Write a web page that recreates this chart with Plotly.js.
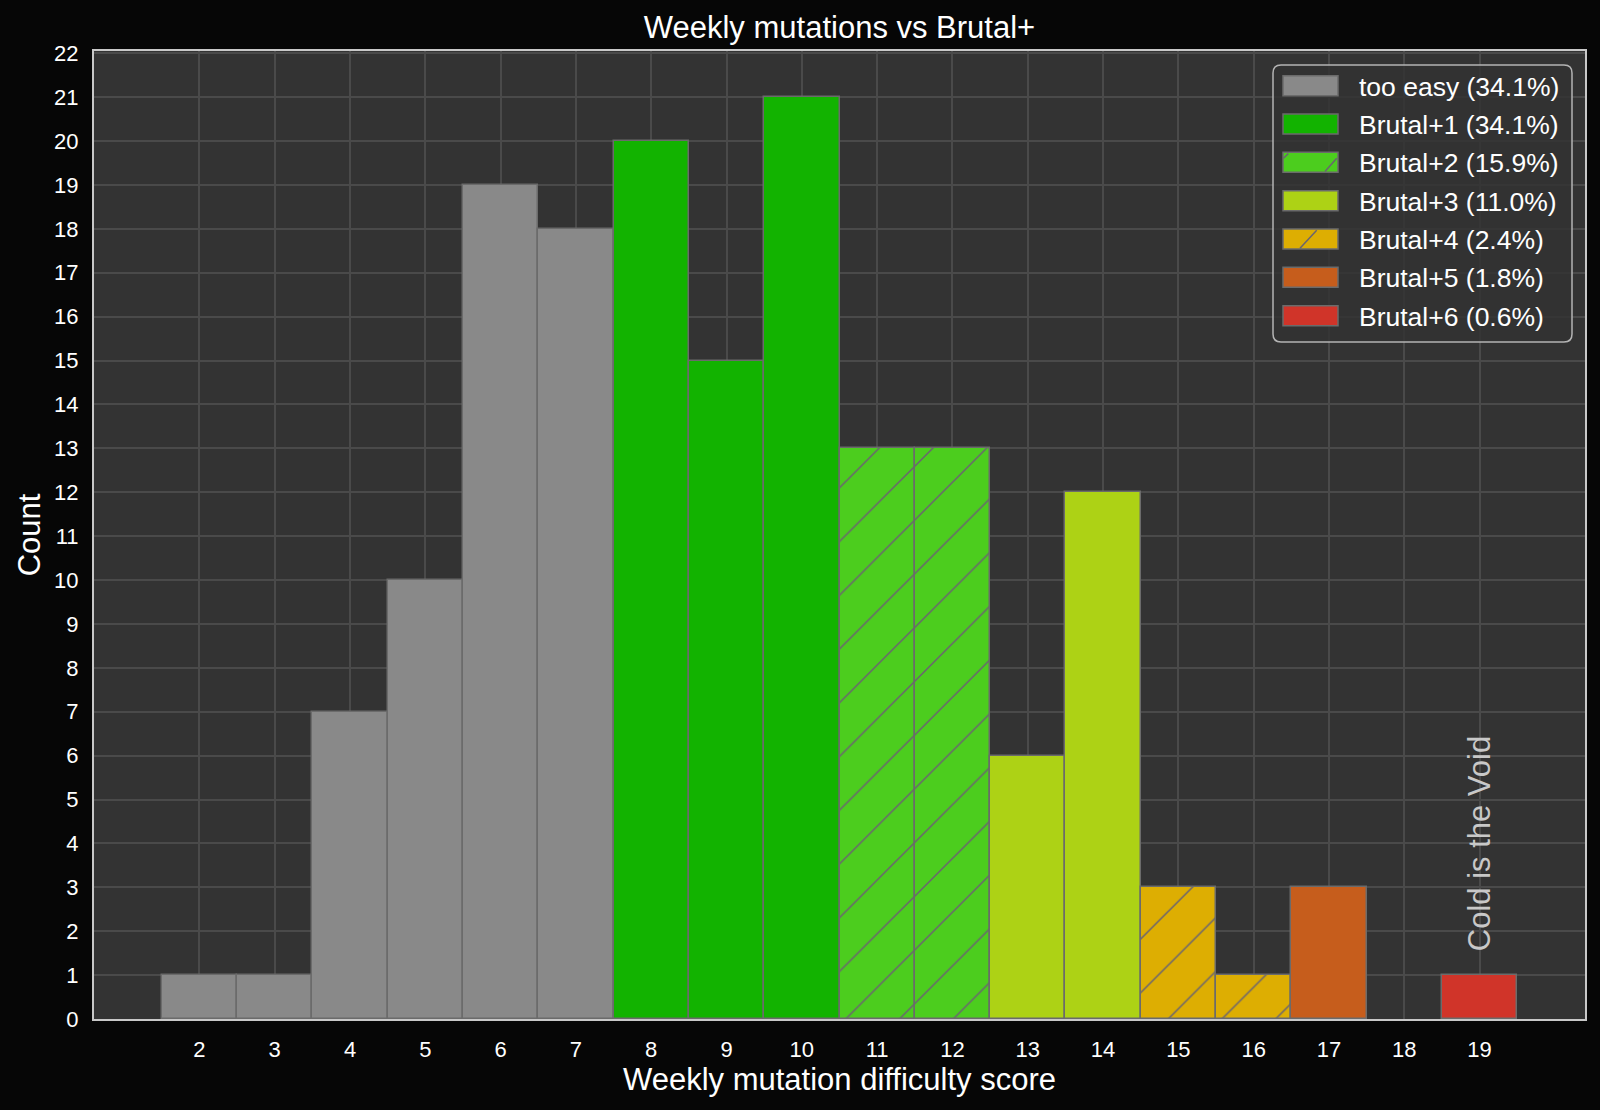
<!DOCTYPE html>
<html>
<head>
<meta charset="utf-8">
<script src="https://cdn.plot.ly/plotly-3.0.1.min.js"></script>
<style>
  html, body { margin: 0; padding: 0; background: #060606; }
  #chart { width: 1600px; height: 1110px; }
</style>
</head>
<body>
<div id="chart"></div>
<script>
// categories and their bins (difficulty score -> count)
var categories = ['too easy', 'Brutal+1', 'Brutal+2', 'Brutal+3', 'Brutal+4', 'Brutal+5', 'Brutal+6'];
var scores = [
    [2, 3, 4, 5, 6, 7],
    [8, 9, 10],
    [11, 12],
    [13, 14],
    [15, 16],
    [17],
    [19]
];
var counts = [
    [1, 1, 7, 10, 19, 18],
    [20, 15, 21],
    [13, 13],
    [6, 12],
    [3, 1],
    [3],
    [1]
];
var colors = ['#898989', '#12b300', '#4ccd1e', '#add215', '#ddae02', '#c65d1c', '#d03429'];
var hatched = [false, false, true, false, true, false, false];
var xTicks = [2, 3, 4, 5, 6, 7, 8, 9, 10, 11, 12, 13, 14, 15, 16, 17, 18, 19];

var edgeColor = '#6b6b6b';
var hatchColor = '#6a6470';
var font = 'Liberation Sans, Arial, sans-serif';

var total = _sum(counts.map(_sum));
function _sum(a) { return a.reduce(function(s, v) { return s + v; }, 0); }

var traces = categories.map(function(name, i) {
    var marker = {color: colors[i], line: {color: edgeColor, width: 1.5}};
    if (hatched[i]) {
        marker.pattern = {shape: '/', size: 38, solidity: 0.04,
                          fgcolor: hatchColor, bgcolor: colors[i], fgopacity: 1};
    }
    return {
        type: 'bar',
        name: name,
        x: scores[i],
        y: counts[i],
        width: 1,
        marker: marker,
        showlegend: false,
        hoverinfo: 'x+y+name'
    };
});

// plot area in pixels, used to place the hand drawn legend
var L = 94, R = 1585, T = 51, B = 1019;
function px(x) { return (x - L) / (R - L); }
function py(y) { return (B - y) / (B - T); }

var shapes = [];
var annotations = [];

// legend frame with rounded corners
(function() {
    var x0 = 1273, x1 = 1572, y0 = 65, y1 = 342, r = 8;
    var d = 'M' + px(x0 + r) + ',' + py(y0) +
        ' L' + px(x1 - r) + ',' + py(y0) +
        ' Q' + px(x1) + ',' + py(y0) + ' ' + px(x1) + ',' + py(y0 + r) +
        ' L' + px(x1) + ',' + py(y1 - r) +
        ' Q' + px(x1) + ',' + py(y1) + ' ' + px(x1 - r) + ',' + py(y1) +
        ' L' + px(x0 + r) + ',' + py(y1) +
        ' Q' + px(x0) + ',' + py(y1) + ' ' + px(x0) + ',' + py(y1 - r) +
        ' L' + px(x0) + ',' + py(y0 + r) +
        ' Q' + px(x0) + ',' + py(y0) + ' ' + px(x0 + r) + ',' + py(y0) + ' Z';
    shapes.push({type: 'path', xref: 'paper', yref: 'paper', path: d,
                 fillcolor: 'rgba(51,51,51,0.85)', line: {color: '#b4b4b4', width: 1.5}});
})();

var rowY = [86.7, 125, 163.3, 201.7, 240, 278.3, 316.7];
categories.forEach(function(name, i) {
    var cy = rowY[i] - 1;
    shapes.push({type: 'rect', xref: 'paper', yref: 'paper',
                 x0: px(1283), x1: px(1338), y0: py(cy + 10), y1: py(cy - 10),
                 fillcolor: colors[i], line: {color: edgeColor, width: 1.5}});
    var pct = (100 * _sum(counts[i]) / total).toFixed(1);
    annotations.push({xref: 'paper', yref: 'paper', x: px(1357), y: py(rowY[i]),
                      xanchor: 'left', yanchor: 'middle', showarrow: false,
                      text: name + ' (' + pct + '%)',
                      font: {family: font, size: 26.5, color: '#ffffff'}});
});
// hatch fragments in the legend swatches
[[1283.5, 158.3, 1288.3, 153.6], [1325, 171.6, 1336.7, 158.3], [1300, 248.3, 1316.7, 230.3]].forEach(function(s) {
    shapes.push({type: 'line', xref: 'paper', yref: 'paper',
                 x0: px(s[0]), y0: py(s[1]), x1: px(s[2]), y1: py(s[3]),
                 line: {color: hatchColor, width: 1.5}});
});

annotations.push({
    x: 19, y: 1.5, xref: 'x', yref: 'y', text: 'Cold is the Void',
    textangle: -90, showarrow: false, xanchor: 'center', yanchor: 'bottom',
    font: {family: font, size: 31, color: '#c8c8c8'}
});

var layout = {
    width: 1600,
    height: 1110,
    paper_bgcolor: '#060606',
    plot_bgcolor: '#333333',
    margin: {l: L, r: 1600 - R, t: T, b: 1110 - B},
    font: {family: font, color: '#ffffff'},
    barmode: 'overlay',
    bargap: 0,
    showlegend: false,
    title: {
        text: 'Weekly mutations vs Brutal+',
        font: {family: font, size: 31, color: '#ffffff'},
        x: (L + R) / 2 / 1600, xanchor: 'center',
        y: 1 - 27 / 1110, yref: 'container', yanchor: 'middle'
    },
    xaxis: {
        range: [0.6, 20.4],
        tickvals: xTicks,
        ticks: 'outside', ticklen: 10, tickcolor: 'rgba(0,0,0,0)',
        tickfont: {family: font, size: 22, color: '#ffffff'},
        showgrid: true, gridcolor: '#4a4a4a', gridwidth: 1.5,
        zeroline: false,
        showline: true, linecolor: '#c8c8c8', linewidth: 2, mirror: true,
        title: {text: 'Weekly mutation difficulty score', standoff: 6,
                font: {family: font, size: 31, color: '#ffffff'}}
    },
    yaxis: {
        range: [0, 22.05],
        dtick: 1,
        ticks: 'outside', ticklen: 9, tickcolor: 'rgba(0,0,0,0)',
        tickfont: {family: font, size: 22, color: '#ffffff'},
        showgrid: true, gridcolor: '#4a4a4a', gridwidth: 1.5,
        zeroline: false,
        showline: true, linecolor: '#c8c8c8', linewidth: 2, mirror: true,
        title: {text: 'Count', standoff: 4,
                font: {family: font, size: 31, color: '#ffffff'}}
    },
    shapes: shapes,
    annotations: annotations
};

Plotly.newPlot('chart', traces, layout, {displayModeBar: false});
</script>
</body>
</html>
